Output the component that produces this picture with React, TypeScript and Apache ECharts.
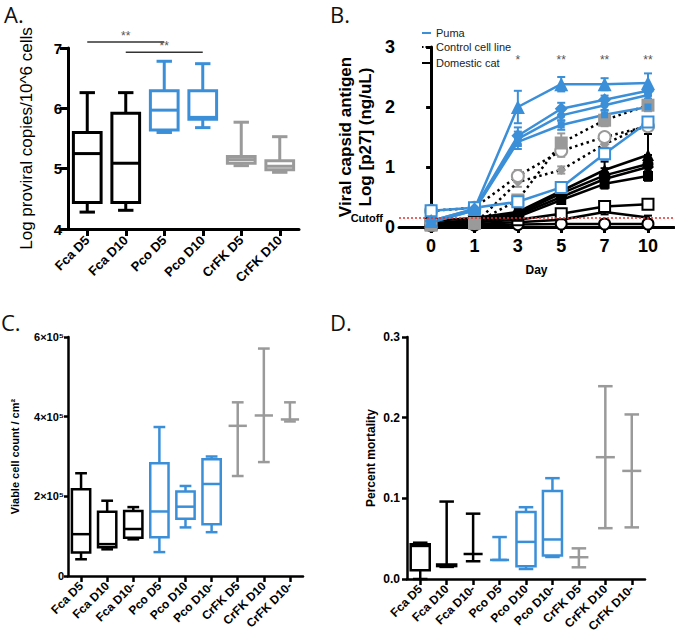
import React, { useEffect, useRef } from 'react';
import * as echarts from 'echarts';

const BLUE = '#3b8fd8';
const GRAY = '#9a9a9a';
const BLACK = '#000000';
const FONT = 'Liberation Sans, Arial, sans-serif';
const TITLE_FONT = 'Open Sans, sans-serif';

// ---------- Panel A ----------
const catsA = ['Fca D5', 'Fca D10', 'Pco D5', 'Pco D10', 'CrFK D5', 'CrFK D10'];
const groupA = ['cat', 'cat', 'puma', 'puma', 'ctl', 'ctl'];
const aMin = [4.28, 4.31, 5.60, 5.68, 5.05, 4.94];
const aQ1 = [4.44, 4.44, 5.64, 5.82, 5.09, 4.98];
const aMed = [5.25, 5.09, 5.97, 5.85, 5.15, 5.04];
const aQ3 = [5.60, 5.92, 6.29, 6.29, 5.20, 5.13];
const aMax = [6.26, 6.26, 6.78, 6.74, 5.77, 5.53];
const sigFrom = [0, 1];
const sigTo = [2, 3];
const sigY = [7.1, 6.93];
const sigText = ['**', '**'];

// ---------- Panel B ----------
const days = ['0', '1', '3', '5', '7', '10'];
const starsB = ['', '', '*', '**', '**', '**'];
const starY = 2.68;
const cutoff = 0.15;

const pumaTri = [0.10, 0.30, 2.00, 2.38, 2.38, 2.40];
const pumaTriErr = [0.02, 0.03, 0.27, 0.12, 0.10, 0.16];
const pumaDia = [0.10, 0.30, 1.52, 1.97, 2.12, 2.27];
const pumaDiaErr = [0.02, 0.03, 0.14, 0.10, 0.07, 0.08];
const pumaCir = [0.08, 0.28, 1.47, 1.86, 2.03, 2.20];
const pumaCirErr = [0.02, 0.03, 0.12, 0.09, 0.08, 0.06];
const pumaSq = [0.08, 0.28, 1.42, 1.70, 1.87, 2.00];
const pumaSqErr = [0.02, 0.03, 0.12, 0.08, 0.07, 0.06];
const pumaOpen = [0.27, 0.32, 0.42, 0.66, 1.22, 1.75];
const pumaOpenErr = [0.04, 0.04, 0.05, 0.05, 0.10, 0.07];

const ctlSq = [0.03, 0.06, 0.45, 1.40, 1.78, 2.03];
const ctlSqErr = [0.04, 0.08, 0.08, 0.16, 0.10, 0.10];
const ctlOpen = [0.27, 0.32, 0.85, 1.27, 1.50, 1.68];
const ctlOpenErr = [0.03, 0.04, 0.10, 0.10, 0.06, 0.05];
const ctlDia = [0.02, 0.05, 0.75, 0.95, 1.38, 1.72];
const ctlDiaErr = [0.03, 0.06, 0.08, 0.06, 0.06, 0.05];

const catTri = [0.10, 0.15, 0.25, 0.60, 0.95, 1.20];
const catTriErr = [0.02, 0.03, 0.05, 0.08, 0.14, 0.35];
const catCir = [0.06, 0.12, 0.22, 0.56, 0.86, 1.05];
const catCirErr = [0.02, 0.03, 0.04, 0.06, 0.12, 0.15];
const catDia = [0.05, 0.10, 0.20, 0.50, 0.80, 1.00];
const catDiaErr = [0.02, 0.03, 0.04, 0.06, 0.10, 0.12];
const catSq = [0.04, 0.09, 0.17, 0.45, 0.72, 0.85];
const catSqErr = [0.02, 0.03, 0.04, 0.05, 0.08, 0.08];
const catOpenSq = [0.05, 0.08, 0.12, 0.22, 0.34, 0.38];
const catOpenSqErr = [0.02, 0.02, 0.03, 0.04, 0.08, 0.04];
const catOpenCir = [0.02, 0.03, 0.04, 0.05, 0.05, 0.05];
const catOpenCirErr = [0.01, 0.02, 0.02, 0.03, 0.02, 0.02];
const catPlain = [0.03, 0.05, 0.08, 0.12, 0.25, 0.16];
const catPlainErr = [0.01, 0.02, 0.02, 0.03, 0.04, 0.03];

// ---------- Panel C ----------
const catsCD = ['Fca D5', 'Fca D10', 'Fca D10-', 'Pco D5', 'Pco D10', 'Pco D10-', 'CrFK D5', 'CrFK D10', 'CrFK D10-'];
const groupCD = ['cat', 'cat', 'cat', 'puma', 'puma', 'puma', 'ctl', 'ctl', 'ctl'];
const cMin = [42000, 67000, 92000, 60000, 122000, 110000, 251000, 286000, 388000];
const cQ1 = [59000, 72000, 96000, 97000, 144000, 130000, 377000, 403000, 393000];
const cMed = [105000, 80000, 118000, 162000, 174000, 231000, 377000, 403000, 393000];
const cQ3 = [218000, 161000, 163000, 283000, 212000, 293000, 377000, 403000, 393000];
const cMax = [258000, 189000, 173000, 374000, 226000, 300000, 436000, 571000, 436000];

// ---------- Panel D ----------
const dMin = [0.000, 0.015, 0.022, 0.0236, 0.0124, 0.0273, 0.0145, 0.063, 0.064];
const dQ1 = [0.011, 0.016, 0.031, 0.0236, 0.0157, 0.029, 0.027, 0.151, 0.134];
const dMed = [0.041, 0.017, 0.031, 0.0236, 0.046, 0.049, 0.027, 0.151, 0.134];
const dQ3 = [0.043, 0.018, 0.031, 0.0236, 0.083, 0.109, 0.027, 0.151, 0.134];
const dMax = [0.045, 0.096, 0.081, 0.052, 0.089, 0.125, 0.038, 0.239, 0.204];

const groupColor: Record<string, string> = { cat: BLACK, puma: BLUE, ctl: GRAY };

function boxRender(color: string, lw: number, boxFrac: number, capFrac: number) {
  return (params: any, api: any) => {
    const i = api.value(0);
    const vals = [1, 2, 3, 4, 5].map((k) => api.value(k));
    const band = api.size([1, 0])[0];
    const bw = (band * boxFrac) / 2;
    const cw = (band * capFrac) / 2;
    const pts = vals.map((v: number) => api.coord([i, v]));
    const cx = pts[0][0];
    const [yMin, yQ1, yMed, yQ3, yMax] = pts.map((p: number[]) => p[1]);
    const style = { stroke: color, lineWidth: lw, fill: 'transparent' };
    const children: any[] = [
      { type: 'line', shape: { x1: cx, y1: yMax, x2: cx, y2: yQ3 }, style },
      { type: 'line', shape: { x1: cx, y1: yQ1, x2: cx, y2: yMin }, style },
      { type: 'line', shape: { x1: cx - cw, y1: yMax, x2: cx + cw, y2: yMax }, style },
      { type: 'line', shape: { x1: cx - cw, y1: yMin, x2: cx + cw, y2: yMin }, style },
    ];
    if (Math.abs(yQ1 - yQ3) > 0.5) {
      children.push({ type: 'rect', shape: { x: cx - bw, y: yQ3, width: 2 * bw, height: yQ1 - yQ3 }, style });
    }
    children.push({ type: 'line', shape: { x1: cx - bw, y1: yMed, x2: cx + bw, y2: yMed }, style });
    return { type: 'group', children };
  };
}

function errRender(color: string, lw: number, capHalf: number) {
  return (params: any, api: any) => {
    const i = api.value(0);
    const lo = api.coord([i, api.value(1)]);
    const hi = api.coord([i, api.value(2)]);
    const style = { stroke: color, lineWidth: lw };
    return {
      type: 'group',
      children: [
        { type: 'line', shape: { x1: lo[0], y1: lo[1], x2: hi[0], y2: hi[1] }, style },
        { type: 'line', shape: { x1: hi[0] - capHalf, y1: hi[1], x2: hi[0] + capHalf, y2: hi[1] }, style },
        { type: 'line', shape: { x1: lo[0] - capHalf, y1: lo[1], x2: lo[0] + capHalf, y2: lo[1] }, style },
      ],
    };
  };
}

function textRender(texts: string[], color: string, size: number) {
  return (params: any, api: any) => {
    const p = api.coord([api.value(0), api.value(1)]);
    return {
      type: 'text',
      x: p[0],
      y: p[1],
      style: { text: texts[params.dataIndex], fill: color, fontFamily: FONT, fontSize: size, align: 'center', verticalAlign: 'bottom' },
    };
  };
}

function boxSeries(
  grid: number,
  groups: string[],
  mn: number[], q1: number[], md: number[], q3: number[], mx: number[],
  lw: number, boxFrac: number, capFrac: number
) {
  return ['cat', 'puma', 'ctl'].map((g) => ({
    type: 'custom',
    xAxisIndex: grid,
    yAxisIndex: grid,
    renderItem: boxRender(groupColor[g], lw, boxFrac, capFrac),
    encode: { x: 0, y: [1, 2, 3, 4, 5] },
    data: groups
      .map((gg, i) => (gg === g ? [i, mn[i], q1[i], md[i], q3[i], mx[i]] : null))
      .filter((d) => d !== null),
    z: 3,
  }));
}

type BLine = { vals: number[]; err: number[]; color: string; mColor: string; symbol: string; size: number; dotted?: boolean; name: string };
const bLines: BLine[] = [
  { name: 'Domestic cat', vals: catPlain, err: catPlainErr, color: BLACK, mColor: BLACK, symbol: 'circle', size: 4 },
  { name: 'Domestic cat', vals: catOpenCir, err: catOpenCirErr, color: BLACK, mColor: BLACK, symbol: 'emptyCircle', size: 11 },
  { name: 'Domestic cat', vals: catOpenSq, err: catOpenSqErr, color: BLACK, mColor: BLACK, symbol: 'emptyRect', size: 11 },
  { name: 'Domestic cat', vals: catSq, err: catSqErr, color: BLACK, mColor: BLACK, symbol: 'rect', size: 10 },
  { name: 'Domestic cat', vals: catDia, err: catDiaErr, color: BLACK, mColor: BLACK, symbol: 'diamond', size: 12 },
  { name: 'Domestic cat', vals: catCir, err: catCirErr, color: BLACK, mColor: BLACK, symbol: 'circle', size: 11 },
  { name: 'Domestic cat', vals: catTri, err: catTriErr, color: BLACK, mColor: BLACK, symbol: 'triangle', size: 12 },
  { name: 'Control cell line', vals: ctlDia, err: ctlDiaErr, color: BLACK, mColor: GRAY, symbol: 'diamond', size: 10, dotted: true },
  { name: 'Control cell line', vals: ctlOpen, err: ctlOpenErr, color: BLACK, mColor: GRAY, symbol: 'emptyCircle', size: 12, dotted: true },
  { name: 'Control cell line', vals: ctlSq, err: ctlSqErr, color: BLACK, mColor: GRAY, symbol: 'rect', size: 13, dotted: true },
  { name: 'Puma', vals: pumaOpen, err: pumaOpenErr, color: BLUE, mColor: BLUE, symbol: 'emptyRect', size: 11 },
  { name: 'Puma', vals: pumaSq, err: pumaSqErr, color: BLUE, mColor: BLUE, symbol: 'rect', size: 7 },
  { name: 'Puma', vals: pumaCir, err: pumaCirErr, color: BLUE, mColor: BLUE, symbol: 'circle', size: 8 },
  { name: 'Puma', vals: pumaDia, err: pumaDiaErr, color: BLUE, mColor: BLUE, symbol: 'diamond', size: 13 },
  { name: 'Puma', vals: pumaTri, err: pumaTriErr, color: BLUE, mColor: BLUE, symbol: 'triangle', size: 14 },
];

const boldLabel = (size: number) => ({ fontFamily: FONT, fontWeight: 'bold' as const, fontSize: size, color: '#000' });

export default function App() {
  const ref = useRef<HTMLDivElement>(null);
  useEffect(() => {
    if (!ref.current) return;
    const chart = echarts.init(ref.current, undefined, { renderer: 'svg' });

    const bSeries: any[] = [];
    bLines.forEach((l, idx) => {
      bSeries.push({
        type: 'custom',
        xAxisIndex: 1,
        yAxisIndex: 1,
        renderItem: errRender(l.mColor === GRAY ? GRAY : l.color, 2, 4),
        encode: { x: 0, y: [1, 2] },
        data: l.vals.map((v, i) => [i, v - l.err[i], v + l.err[i]]),
        z: 2,
        clip: false,
      });
      bSeries.push({
        type: 'line',
        name: l.name,
        xAxisIndex: 1,
        yAxisIndex: 1,
        data: l.vals.map((v, i) => [i, v]),
        symbol: l.symbol,
        symbolSize: l.size,
        showAllSymbol: true,
        lineStyle: { color: l.color, width: 2.5, type: l.dotted ? [2.5, 3.5] : 'solid' },
        itemStyle: { color: l.mColor, borderColor: l.mColor, borderWidth: l.symbol.startsWith('empty') ? 2 : 0 },
        z: 3,
        clip: false,
        ...(idx === 0
          ? {
              markLine: {
                silent: true,
                symbol: ['none', 'none'],
                lineStyle: { color: '#e8322c', type: [2, 2], width: 1.5 },
                label: {
                  show: true,
                  position: 'start',
                  formatter: 'Cutoff',
                  distance: 16,
                  ...boldLabel(11),
                },
                data: [{ yAxis: cutoff }],
              },
            }
          : {}),
      });
    });
    const starIdx = starsB.map((s, i) => i).filter((i) => starsB[i] !== '');
    bSeries.push({
      type: 'custom',
      xAxisIndex: 1,
      yAxisIndex: 1,
      clip: false,
      renderItem: textRender(starIdx.map((i) => starsB[i]), '#555', 12),
      encode: { x: 0, y: 1 },
      data: starIdx.map((i) => [i, starY]),
      z: 5,
    });

    const sigSeries: any[] = [];
    sigFrom.forEach((f, k) => {
      sigSeries.push({
        type: 'line',
        xAxisIndex: 0,
        yAxisIndex: 0,
        data: [[f, sigY[k]], [sigTo[k], sigY[k]]],
        symbol: 'none',
        lineStyle: { color: '#333', width: 1.5 },
        clip: false,
      });
    });
    sigSeries.push({
      type: 'custom',
      xAxisIndex: 0,
      yAxisIndex: 0,
      clip: false,
      renderItem: textRender(sigText, '#555', 12),
      encode: { x: 0, y: 1 },
      data: sigFrom.map((f, k) => [(f + sigTo[k]) / 2, sigY[k]]),
      z: 5,
    });

    const tick = (len: number, w: number, align = false) => ({ show: true, length: len, alignWithLabel: align, lineStyle: { color: '#000', width: w } });
    const axLine = (w: number) => ({ show: true, lineStyle: { color: '#000', width: w } });

    const option: any = {
      animation: false,
      backgroundColor: '#fff',
      textStyle: { fontFamily: FONT },
      grid: [
        { left: 68, top: 48, width: 231, height: 181 },
        { left: 399, top: 47, width: 275, height: 180 },
        { left: 68, top: 337, width: 235, height: 239 },
        { left: 407, top: 337, width: 238, height: 242 },
      ],
      xAxis: [
        {
          gridIndex: 0, type: 'category', data: catsA,
          axisLine: axLine(3), axisTick: tick(7, 3, true),
          axisLabel: { ...boldLabel(13), rotate: 45, margin: 9, interval: 0 },
        },
        {
          gridIndex: 1, type: 'value', min: -0.74, max: 5.6,
          axisLine: axLine(3),
          axisTick: { ...tick(6, 3), customValues: [0, 1, 2, 3, 4, 5] },
          axisLabel: { ...boldLabel(18), margin: 10, customValues: [0, 1, 2, 3, 4, 5], formatter: (v: number) => days[Math.round(v)] },
          splitLine: { show: false },
          name: 'Day', nameLocation: 'middle', nameGap: 37,
          nameTextStyle: boldLabel(12),
        },
        {
          gridIndex: 2, type: 'category', data: catsCD,
          axisLine: axLine(2.5), axisTick: tick(6, 2.5, true),
          axisLabel: { ...boldLabel(12), rotate: 45, margin: 8, interval: 0 },
        },
        {
          gridIndex: 3, type: 'category', data: catsCD,
          axisLine: axLine(2.5), axisTick: tick(6, 2.5, true),
          axisLabel: { ...boldLabel(12), rotate: 45, margin: 8, interval: 0 },
        },
      ],
      yAxis: [
        {
          gridIndex: 0, type: 'value', min: 4, max: 7, interval: 1,
          axisLine: axLine(3), axisTick: tick(8, 3), splitLine: { show: false },
          axisLabel: { ...boldLabel(15), margin: 6 },
          name: 'Log proviral copies/10^6 cells', nameLocation: 'middle', nameGap: 33, nameRotate: 90,
          nameTextStyle: { fontFamily: FONT, fontSize: 17, color: '#000' },
        },
        {
          gridIndex: 1, type: 'value', min: 0, max: 3, interval: 1,
          axisLine: axLine(3),
          axisTick: { ...tick(5, 3), customValues: [0, cutoff, 1, 2, 3] },
          splitLine: { show: false },
          axisLabel: { ...boldLabel(18), margin: 4 },
          name: 'Viral capsid antigen\nLog [p27] (ng/uL)', nameLocation: 'middle', nameGap: 24, nameRotate: 90,
          nameTextStyle: { ...boldLabel(17), lineHeight: 20 },
        },
        {
          gridIndex: 2, type: 'value', min: 0, max: 600000, interval: 200000,
          axisLine: axLine(2.5), axisTick: tick(4, 2.5), splitLine: { show: false },
          axisLabel: { ...boldLabel(11), margin: 4, formatter: (v: number) => (v === 0 ? '0' : `${v / 100000}×10⁵`) },
          name: 'Viable cell count / cm²', nameLocation: 'middle', nameGap: 48, nameRotate: 90,
          nameTextStyle: boldLabel(11),
        },
        {
          gridIndex: 3, type: 'value', min: 0, max: 0.3, interval: 0.1,
          axisLine: axLine(2.5), axisTick: tick(5, 2.5), splitLine: { show: false },
          axisLabel: { ...boldLabel(12), margin: 7, formatter: (v: number) => v.toFixed(1) },
          name: 'Percent mortality', nameLocation: 'middle', nameGap: 30, nameRotate: 90,
          nameTextStyle: boldLabel(12),
        },
      ],
      graphic: [
        { type: 'text', x: 4, y: 3, style: { text: 'A.', fontFamily: TITLE_FONT, fontSize: 22, fill: '#111', verticalAlign: 'top' } },
        { type: 'text', x: 330, y: 3, style: { text: 'B.', fontFamily: TITLE_FONT, fontSize: 22, fill: '#111', verticalAlign: 'top' } },
        { type: 'text', x: 1, y: 311, style: { text: 'C.', fontFamily: TITLE_FONT, fontSize: 22, fill: '#111', verticalAlign: 'top' } },
        { type: 'text', x: 330, y: 311, style: { text: 'D.', fontFamily: TITLE_FONT, fontSize: 22, fill: '#111', verticalAlign: 'top' } },
        { type: 'line', shape: { x1: 422, y1: 33, x2: 431, y2: 33 }, style: { stroke: BLUE, lineWidth: 2 } },
        { type: 'text', x: 436, y: 33, style: { text: 'Puma', fontFamily: FONT, fontSize: 11, fill: '#222', verticalAlign: 'middle' } },
        { type: 'line', shape: { x1: 422, y1: 47, x2: 431, y2: 47 }, style: { stroke: '#000', lineWidth: 2, lineDash: [1.5, 2] } },
        { type: 'text', x: 436, y: 47, style: { text: 'Control cell line', fontFamily: FONT, fontSize: 11, fill: '#222', verticalAlign: 'middle' } },
        { type: 'line', shape: { x1: 422, y1: 63, x2: 431, y2: 63 }, style: { stroke: '#000', lineWidth: 2 } },
        { type: 'text', x: 436, y: 63, style: { text: 'Domestic cat', fontFamily: FONT, fontSize: 11, fill: '#222', verticalAlign: 'middle' } },
      ],
      series: [
        ...boxSeries(0, groupA, aMin, aQ1, aMed, aQ3, aMax, 3, 0.72, 0.4),
        ...sigSeries,
        ...bSeries,
        ...boxSeries(2, groupCD, cMin, cQ1, cMed, cQ3, cMax, 2.5, 0.7, 0.45),
        ...boxSeries(3, groupCD, dMin, dQ1, dMed, dQ3, dMax, 2.5, 0.72, 0.55),
      ],
    };
    chart.setOption(option);
    return () => chart.dispose();
  }, []);
  return <div ref={ref} style={{ position: 'fixed', left: 0, top: 0, width: 675, height: 641 }} />;
}
